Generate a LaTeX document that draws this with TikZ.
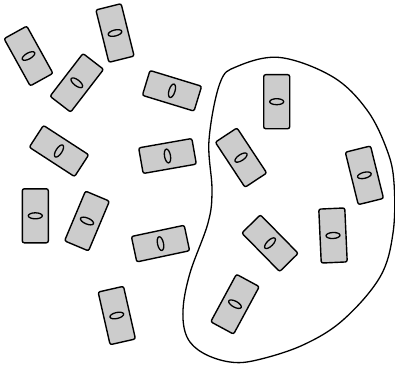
\documentclass[tikz,border=0pt]{standalone}
\usetikzlibrary{shapes.geometric}
\begin{document}
\begin{tikzpicture}[x=1pt,y=1pt,
  card/.style={draw=black, fill=gray!40, line width=1.4pt, rounded corners=2pt,
    rectangle, minimum width=26pt, minimum height=54pt, inner sep=0pt},
  hole/.style={draw=black, line width=1.3pt, ellipse, minimum width=14pt,
    minimum height=6pt, inner sep=0pt},
  blob/.style={draw=black, line width=1.3pt}]
\useasboundingbox (0,0) rectangle (395,-366);
\draw[blob] plot[smooth cycle, tension=0.6] coordinates {
 (280,-57.5) (333,-77) (367,-110) (387,-150) (394,-183) (393,-233) (380,-277)
 (343,-320) (303,-345) (257,-360) (230,-362) (203,-353) (187,-337) (183,-310)
 (190,-273) (208,-223) (212,-190) (209,-140) (220,-83) (237,-66.5)};
\foreach \n/\x/\y/\a in {
  a/28.5/56/29, b/115/33/14, c/76.8/82.8/-37.6, d/172/90.8/73,
  e/59/151/57, f/167.5/156/-80, g/35.3/215.8/0, h/87/221/-22.8,
  i/160.5/243.6/-78, j/116.8/315.5/12.8, k/276.7/101.7/0, l/241/157.6/33.4,
  m/364.4/175.3/13.9, n/270/243.2/44.5, o/333/235.5/2.6, p/235/304.2/-28.4}{
  \node[card, rotate=\a] (\n) at (\x,-\y) {};
  \node[hole, rotate=\a] (\n h) at (\n) {};
}
\end{tikzpicture}
\end{document}
